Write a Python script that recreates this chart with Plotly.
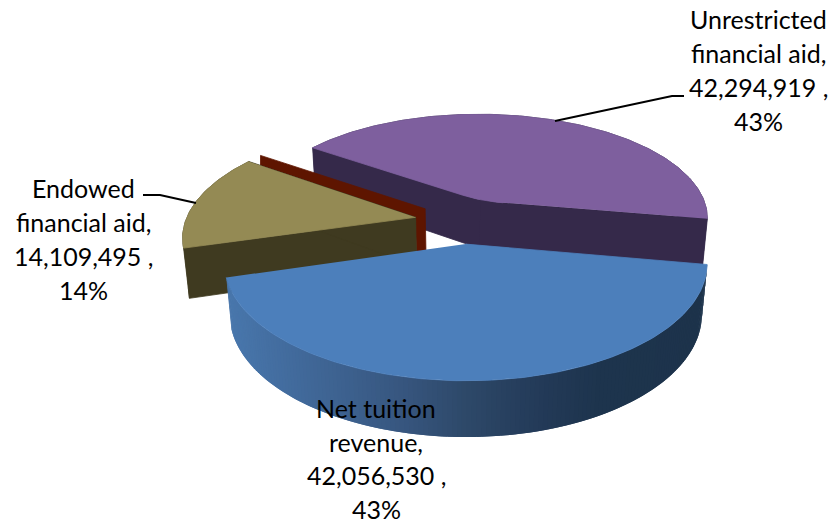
import numpy as np
import plotly.graph_objects as go

# Chart data
categories = ["Net tuition revenue", "Unrestricted financial aid", "Endowed financial aid"]
label_lines = [["Net tuition", "revenue,"], ["Unrestricted", "financial aid,"], ["Endowed", "financial aid,"]]
values = [42056530, 42294919, 14109495]

# Slice styling
top_colors = ["#4C7FBB", "#7E5F9E", "#948A54"]
wall_colors = [None, "#35294A", "#3F3A20"]
back_face_color = "#5E1500"
blue_wall_stops_x = [232, 300, 400, 467, 540, 600, 710]
blue_wall_stops_rgb = [(72, 118, 171), (65, 105, 154), (55, 86, 127), (45, 72, 104),
                       (35, 58, 88), (29, 52, 77), (29, 51, 75)]

# Pie placement and projection
CX, CY = 463.0, 221.0
SCALE = 230.0
ELEV_SIN, ELEV_COS = 0.463, 0.884
DIST = 5.52
THICK = 0.245
EXPLODE = 0.21
BOUNDARY_DEG = -10.0  # edge shared by the first two slices


def project(x, y, z=0.0):
    """Perspective projection of pie coordinates (unit radius) to pixels."""
    x, y, z = np.asarray(x, float), np.asarray(y, float), np.asarray(z, float)
    w = 1.0 / (1.0 + (y * ELEV_COS - z * ELEV_SIN) / DIST)
    return CX + SCALE * x * w, CY - SCALE * (y * ELEV_SIN + z * ELEV_COS) * w


def poly(fig, xs, ys, color, edge=0.8):
    fig.add_trace(go.Scatter(x=list(xs), y=list(ys), mode="lines", fill="toself", fillcolor=color,
                             line=dict(color=color, width=edge), hoverinfo="skip", showlegend=False))


def blue_wall_color(px):
    rgb = [np.interp(px, blue_wall_stops_x, [c[i] for c in blue_wall_stops_rgb]) for i in range(3)]
    return "rgb({:.0f},{:.0f},{:.0f})".format(*rgb)


total = sum(values)
sweeps = [v / total * 360.0 for v in values]

# Slice angles: the first runs clockwise from the shared edge, the others counter-clockwise from it
ranges = [
    (BOUNDARY_DEG - sweeps[0], BOUNDARY_DEG),
    (BOUNDARY_DEG, BOUNDARY_DEG + sweeps[1]),
    (BOUNDARY_DEG + sweeps[1], BOUNDARY_DEG + sweeps[1] + sweeps[2]),
]
apex_rounding = [0.0, 0.10, 0.0]

fig = go.Figure()


def slice_outline(i):
    """Rim points and apex path (from rim end back to rim start) in pie coordinates."""
    a0, a1 = ranges[i]
    mid = np.radians((a0 + a1) / 2)
    ox, oy = EXPLODE * np.cos(mid), EXPLODE * np.sin(mid)
    th = np.radians(np.linspace(a0, a1, int(a1 - a0) + 2))
    rx, ry = ox + np.cos(th), oy + np.sin(th)
    r = apex_rounding[i]
    if r > 0:
        e1 = np.array([np.cos(th[-1]), np.sin(th[-1])]) * r
        e0 = np.array([np.cos(th[0]), np.sin(th[0])]) * r
        t = np.linspace(0, 1, 12)[:, None]
        curve = (1 - t) ** 2 * e1 + t ** 2 * e0
        ax, ay = ox + curve[:, 0], oy + curve[:, 1]
    else:
        ax, ay = np.array([ox]), np.array([oy])
    return rx, ry, ax, ay


def wall_strip(px, py, color):
    tx, ty = project(px, py, 0.0)
    bx, by = project(px, py, -THICK)
    poly(fig, list(tx) + list(bx[::-1]), list(ty) + list(by[::-1]), color)


def draw_slice(i):
    rx, ry, ax, ay = slice_outline(i)
    if wall_colors[i] is None:
        # shaded outer wall: overlapping bands so no seams show between them
        n = len(rx)
        for k in range(0, n - 1):
            j = np.arange(k, min(k + 3, n))
            tx, ty = project(rx[j], ry[j], 0.0)
            bx, by = project(rx[j], ry[j], -THICK)
            poly(fig, list(tx) + list(bx[::-1]), list(ty) + list(by[::-1]),
                 blue_wall_color(project(rx[k], ry[k])[0] + 1.0), edge=0)
    else:
        wall_strip(rx, ry, wall_colors[i])
        # cut faces, one leg at a time, overlapping at the apex
        mid = len(ax) // 2
        wall_strip(np.concatenate([[rx[-1]], ax[:mid + 2]]), np.concatenate([[ry[-1]], ay[:mid + 2]]), wall_colors[i])
        wall_strip(np.concatenate([ax[max(mid - 1, 0):], [rx[0]]]), np.concatenate([ay[max(mid - 1, 0):], [ry[0]]]),
                   wall_colors[i])
    # top face
    tx, ty = project(np.concatenate([rx, ax]), np.concatenate([ry, ay]), 0.0)
    poly(fig, tx, ty, top_colors[i])


def draw_back_face(i, shift_x=9.5, shift_y=-8.5):
    """Far cut face of the smallest slice, showing behind its top."""
    rx, ry, ax, ay = slice_outline(i)
    ax0, ay0 = project(ax[0], ay[0], 0.0)
    wx, wy = project(ax[0], ay[0], -THICK)
    ex, ey = project(rx[0], ry[0], 0.0)
    # start a little way in from the rim along the far edge
    sx, sy = ex + 0.07 * (ax0 - ex), ey + 0.07 * (ay0 - ey)
    poly(fig,
         [sx, sx, ax0 + shift_x, wx + shift_x, wx, ax0],
         [sy, sy - 10, ay0 + shift_y, wy + shift_y, wy, ay0],
         back_face_color)


# Painter's order: far slice first, front slice last
draw_slice(1)
draw_back_face(2)
draw_slice(2)
draw_slice(0)

# Leader lines
leaders = [([555, 672, 684], [121, 96, 96]), ([143, 160, 196], [195, 195, 203])]
for lx, ly in leaders:
    fig.add_trace(go.Scatter(x=lx, y=ly, mode="lines", line=dict(color="black", width=2),
                             hoverinfo="skip", showlegend=False))

# Data labels: centre x and the centre y of each text line
label_x = [376, 758, 83]
label_y = [[408, 441.5, 475, 508.5], [19, 53, 87, 121], [188, 222, 256, 290]]
for lines, v, tx, ys in zip(label_lines, values, label_x, label_y):
    pct = round(v / total * 100)
    for text, ty in zip(lines + [f"{v:,} ,", f"{pct}%"], ys):
        fig.add_annotation(x=tx, y=ty, text=text, showarrow=False, align="center",
                           xanchor="center", yanchor="middle",
                           font=dict(family="Lato", size=25, color="black"))

fig.update_layout(
    width=831, height=524, autosize=False,
    margin=dict(l=0, r=0, t=0, b=0),
    paper_bgcolor="white", plot_bgcolor="white", showlegend=False,
    xaxis=dict(range=[0, 831], visible=False, fixedrange=True),
    yaxis=dict(range=[524, 0], visible=False, fixedrange=True),
)
fig.write_html("out.html", config=dict(displayModeBar=False))
